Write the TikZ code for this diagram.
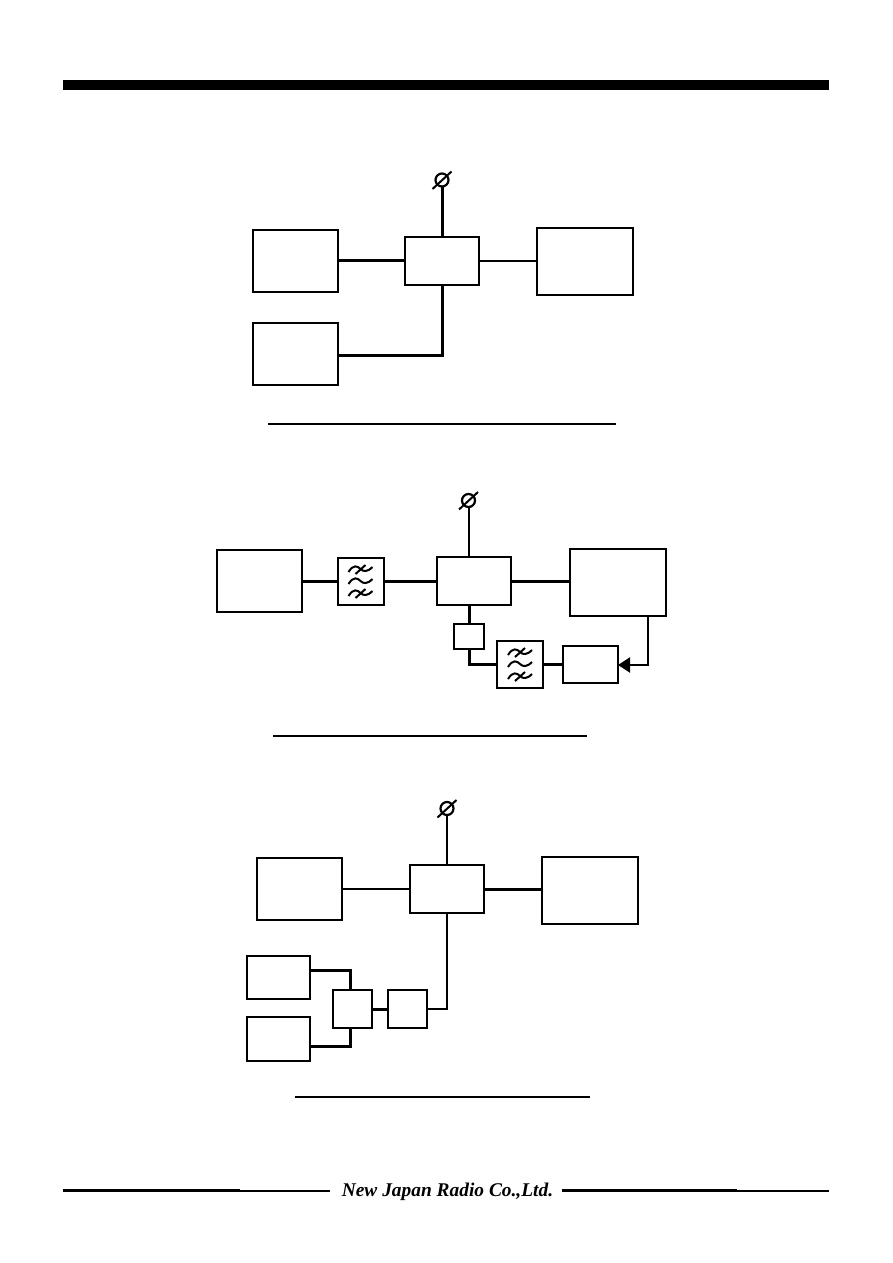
\documentclass[tikz,border=0pt]{standalone}
\usepackage{fontspec}
\setmainfont{Liberation Serif}
\usepackage{tikz}
\usetikzlibrary{arrows.meta, positioning, calc}

\tikzset{
  block/.style={draw, rectangle, line width=2pt, outer sep=0pt, inner sep=0pt, fill=white},
  src/.style={block, minimum width=85pt, minimum height=62pt},
  load/.style={block, minimum width=96pt, minimum height=67pt},
  dut/.style={block, minimum width=74pt, minimum height=48pt},
  filt/.style={block, minimum width=46pt, minimum height=47pt},
  ant/.style={draw, circle, line width=2.2pt, minimum size=13pt, inner sep=0pt, outer sep=0pt},
  thin line/.style={line width=2pt},
  thick line/.style={line width=3pt}
}

\begin{document}
\begin{tikzpicture}[x=1pt, y=-1pt, node distance=50pt]
  \useasboundingbox (0,0) rectangle (892,1263);
  \fill (63,80) rectangle (829,90);

  % first set-up
  \node[src] (srcA) at (295.5,260.5) {};
  \node[dut, right=67pt of srcA] (dutA) {};
  \node[load, right=58pt of dutA, yshift=-1pt] (loadA) {};
  \node[src, below=31pt of srcA] (lowA) {};
  \node[ant, above=50pt of dutA] (antA) {};
  \draw[thick line] (srcA) -- (dutA);
  \draw[thin line] (dutA) -- (dutA -| loadA.west);
  \draw[thick line] (antA) -- (dutA);
  \draw[thick line] ($(lowA.east)+(0,2)$) -| (dutA.south);
  \draw[line width=2pt] (268,424) -- (616,424);

  % second set-up
  \node[src] (srcB) at (259,581) {};
  \node[filt, right=36pt of srcB] (filtA) {};
  \node[dut, right=53pt of filtA] (dutB) {};
  \node[load, right=59pt of dutB, yshift=-1pt] (loadB) {};
  \node[ant, above=50pt of dutB, xshift=-5pt] (antB) {};
  \node[block, below=19pt of dutB, xshift=-4.5pt, minimum width=30pt, minimum height=25pt] (padB) {};
  \node[filt, right=13pt of padB, yshift=-27.5pt] (filtB) {};
  \node[block, right=20pt of filtB, minimum width=55pt, minimum height=37pt] (detB) {};
  \draw[thick line] (srcB) -- (filtA);
  \draw[thick line] (filtA) -- (dutB);
  \draw[thick line] (dutB) -- (dutB -| loadB.west);
  \draw[thin line] (antB) -- (antB |- dutB.north);
  \draw[thick line] (padB.north) -- (padB.north |- dutB.south);
  \draw[thick line] (padB.south) |- (filtB.west);
  \draw[thick line] (filtB) -- (detB);
  \draw[thin line, -{Triangle[length=12pt, width=15pt]}] ($(loadB.south)+(30,0)$) |- ($(detB.east)+(0,1)$);
  \draw[line width=2pt] (273,736) -- (587,736);

  % third set-up
  \node[src] (srcC) at (299.5,889) {};
  \node[dut, right=68pt of srcC] (dutC) {};
  \node[load, right=58pt of dutC, yshift=-1pt] (loadC) {};
  \node[ant, above=50pt of dutC] (antC) {};
  \node[block, minimum width=39pt, minimum height=38pt] (mixC) at (352.5,1009) {};
  \node[block, right=16pt of mixC, minimum width=39pt, minimum height=38pt] (padC) {};
  \node[block, minimum width=63pt, minimum height=43pt] (genA) at (278.5,977.5) {};
  \node[block, minimum width=63pt, minimum height=44pt] (genB) at (278.5,1039) {};
  \draw[thin line] (srcC) -- (dutC);
  \draw[thick line] (dutC) -- (dutC -| loadC.west);
  \draw[thin line] (antC) -- (dutC);
  \draw[thin line] (padC.east) -| (dutC.south);
  \draw[thick line] (mixC) -- (padC);
  \draw[thick line] ($(genA.east)+(0,-7.5)$) -| ($(mixC.north)+(-2,0)$);
  \draw[thick line] ($(genB.east)+(0,7)$) -| ($(mixC.south)+(-2,0)$);
  \draw[line width=2pt] (295,1097) -- (590,1097);

  % slashes on the terminals
  \foreach \n in {antA,antB,antC}
    \draw[line width=2pt] ($(\n.center)+(-9.5,9)$) -- ($(\n.center)+(9.5,-8.5)$);

  % filter marks
  \foreach \n in {filtA,filtB} {
    \foreach \s in {-12,0,12}
      \draw[line width=2pt] ($(\n.center)+(-12,\s+3)$) .. controls ($(\n.center)+(-7,\s-5)$) and ($(\n.center)+(-3,\s-3)$) .. ($(\n.center)+(0,\s)$) .. controls ($(\n.center)+(3,\s+3)$) and ($(\n.center)+(7,\s+3)$) .. ($(\n.center)+(12,\s-2)$);
    \foreach \s in {-12,12}
      \draw[line width=2pt] ($(\n.center)+(-5,\s+5)$) -- ($(\n.center)+(5,\s-4)$);
  }

  % footer
  \node[inner sep=0pt, font=\bfseries\itshape\fontsize{19.4}{20}\selectfont] (logo) at (447.5,1192) {New Japan Radio Co.,Ltd.};
  \draw[line width=1.4pt] (63,1191) -- (330,1191);
  \draw[line width=2.2pt] (63,1190.5) -- (240,1190.5);
  \draw[line width=1.4pt] (562,1191) -- (829,1191);
  \draw[line width=2.2pt] (562,1190.5) -- (737,1190.5);
\end{tikzpicture}
\end{document}
